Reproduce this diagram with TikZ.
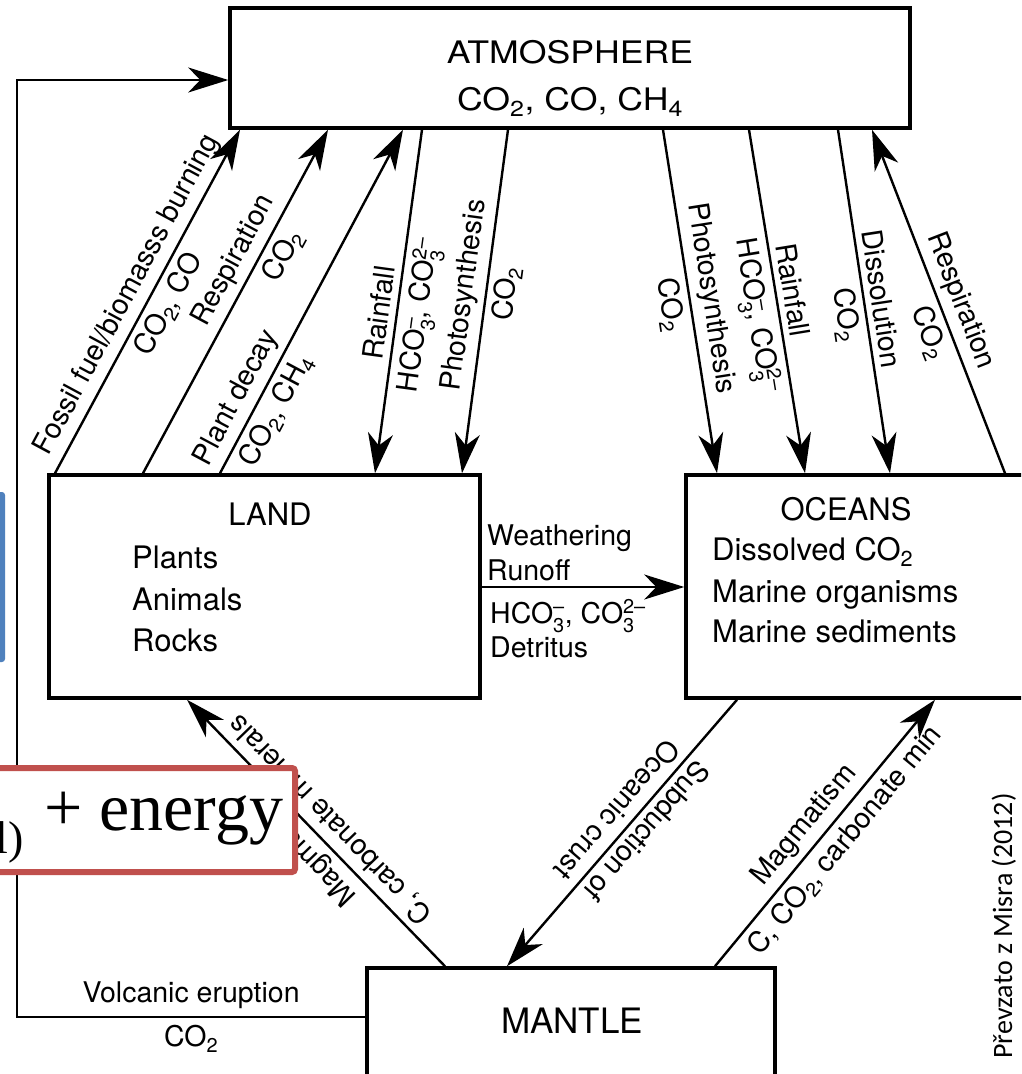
\documentclass[tikz,border=0pt]{standalone}
\usepackage{amsmath}
\usepackage{fontspec}
\setmainfont{TeX Gyre Heros}
\newfontfamily\calibf{Carlito}
\newfontfamily\timesf{Liberation Serif}
\usetikzlibrary{arrows.meta}
\definecolor{redc}{HTML}{C0504D}
\definecolor{bluec}{HTML}{4F81BD}
\newcommand\ionA{HCO$^{\text{–}}_{\text{3}}$}
\newcommand\ionB{CO$^{\text{2–}}_{\text{3}}$}
\tikzset{
  box/.style={draw, line width=3.5pt, inner sep=0pt},
  txt/.style={inner sep=0pt, font=\fontsize{31}{35}\selectfont},
  atmtxt/.style={inner sep=0pt, xscale=1.15, font=\fontsize{31}{35}\selectfont},
  bigtxt/.style={inner sep=0pt, font=\fontsize{35}{39}\selectfont},
  lab/.style={sloped, inner sep=6pt, font=\fontsize{28.5}{32}\selectfont},
  ltxt/.style={inner sep=0pt, font=\fontsize{28.5}{32}\selectfont},
  tip/.tip={Stealth[length=40pt,width=25pt,inset=12pt]},
  flow/.style={line width=2.4pt, -tip},
  flowr/.style={line width=2.4pt, tip-},
}
\begin{document}
\begin{tikzpicture}[x=1pt,y=-1pt]
\useasboundingbox (0,0) rectangle (1021,1074);
\clip (0,0) rectangle (1021,1074);
\fill[white] (0,0) rectangle (1021,1074);

% boxes
\node[box, minimum width=680pt, minimum height=120pt] (atm) at (570,68) {};
\node[box, minimum width=431pt, minimum height=223pt] (land) at (264.5,586.5) {};
\node[box, minimum width=354pt, minimum height=223pt] (ocean) at (863,586.5) {};
\node[box, minimum width=408pt, minimum height=132pt] (mantle) at (571,1034) {};

% box texts
\node[atmtxt, anchor=base] (atmT) at (570,63) {ATMOSPHERE};
\node[atmtxt, anchor=base] (atmG) at (570,110) {CO\textsubscript{2}, CO, CH\textsubscript{4}};
\node[txt, anchor=base] (landT) at (270,525) {LAND};
\node[txt, anchor=base west] (land1) at (132,568) {Plants};
\node[txt, anchor=base west] (land2) at (132,610) {Animals};
\node[txt, anchor=base west] (land3) at (132,651) {Rocks};
\node[txt, anchor=base] (oceanT) at (846,520) {OCEANS};
\node[txt, anchor=base west] (ocean1) at (712,560) {Dissolved CO\textsubscript{2}};
\node[txt, anchor=base west] (ocean2) at (712,602) {Marine organisms};
\node[txt, anchor=base west] (ocean3) at (712,642) {Marine sediments};
\node[bigtxt, anchor=base] (mantleT) at (572,1033) {MANTLE};

% land <-> atmosphere
\draw[flow] (55,0 |- land.north) --
  node[lab, above, pos=0.49] {Fossil fuel/biomasss burning}
  node[lab, below, pos=0.52] {CO\textsubscript{2}, CO} (240,0 |- atm.south);
\draw[flow] (143,0 |- land.north) --
  node[lab, above, pos=0.59] {Respiration}
  node[lab, below, pos=0.66] {CO\textsubscript{2}} (328,0 |- atm.south);
\draw[flow] (220,0 |- land.north) --
  node[lab, above, pos=0.19] {Plant decay}
  node[lab, below, pos=0.21] {CO\textsubscript{2}, CH\textsubscript{4}} (403,0 |- atm.south);
\draw[flowr] (375,0 |- land.north) --
  node[lab, above, pos=0.46] {Rainfall}
  node[lab, below, pos=0.47] {\ionA, \ionB} (422,0 |- atm.south);
\draw[flowr] (462,0 |- land.north) --
  node[lab, above, pos=0.51] {Photosynthesis}
  node[lab, below, pos=0.53] {CO\textsubscript{2}} (508,0 |- atm.south);

% atmosphere <-> oceans
\draw[flow] (663,0 |- atm.south) --
  node[lab, above, pos=0.5] {Photosynthesis}
  node[lab, below, pos=0.5] {CO\textsubscript{2}} (717,0 |- ocean.north);
\draw[flow] (749,0 |- atm.south) --
  node[lab, above, pos=0.475] {Rainfall}
  node[lab, below, pos=0.53] {\ionA, \ionB} (805,0 |- ocean.north);
\draw[flow] (838,0 |- atm.south) --
  node[lab, above, pos=0.5] {Dissolution}
  node[lab, below, pos=0.53] {CO\textsubscript{2}} (890,0 |- ocean.north);
\draw[flowr] (872,0 |- atm.south) --
  node[lab, above, pos=0.52] {Respiration}
  node[lab, below, pos=0.57] {CO\textsubscript{2}} (1005,0 |- ocean.north);

% land -> oceans
\draw[flow] (land.east |- 0,587) -- (ocean.west |- 0,587);
\node[ltxt, anchor=base west] (w1) at (487,545) {Weathering};
\node[ltxt, anchor=base west] (w2) at (487,580) {Runoff};
\node[ltxt, anchor=base west] (w3) at (490,623) {\ionA, \ionB};
\node[ltxt, anchor=base west] (w4) at (490,657) {Detritus};

% mantle links
\draw[flow] (445,0 |- mantle.north) --
  node[lab, allow upside down, above, pos=0.5] {Magmatism}
  node[lab, allow upside down, below, pos=0.5] {C, carbonate minerals} (187,0 |- land.south);
\draw[flow] (737,0 |- ocean.south) --
  node[lab, allow upside down, above, pos=0.45] {Subduction of}
  node[lab, allow upside down, below, pos=0.46] {Oceanic crust} (507,0 |- mantle.north);
\draw[flow] (715,0 |- mantle.north) --
  node[lab, above, pos=0.48] {Magmatism}
  node[lab, below, pos=0.52] {C, CO\textsubscript{2}, carbonate min} (935,0 |- ocean.south);

% volcanic feedback
\coordinate (c2) at (17,1017);
\coordinate (c1) at (17,80);
\draw[flow] (mantle.west |- c2) --
  node[ltxt, above=7pt, pos=0.5] {Volcanic eruption}
  node[ltxt, below=7pt, pos=0.5] {CO\textsubscript{2}} (c2) -- (c1) -- (atm.west |- c1);

% source note
\node[inner sep=0pt, rotate=90, anchor=base, font=\calibf\fontsize{28}{30}\selectfont] (src) at (1012,926) {Převzato z Misra (2012)};

% slide overlays
\fill[bluec, rounded corners=3pt] (-10,492) rectangle (5,662);
\node[draw=redc, fill=white, line width=6pt, rounded corners=3pt, minimum width=315pt, minimum height=104pt, inner sep=0pt] (ovl) at (137.5,820) {};
\node[inner sep=0pt, anchor=base east, font=\timesf\fontsize{46}{50}\selectfont] (ovl1) at (24,853) {l)};
\node[inner sep=0pt, anchor=base west, font=\timesf\fontsize{68}{72}\selectfont] (ovl2) at (44,830) {+ energy};
\end{tikzpicture}
\end{document}
